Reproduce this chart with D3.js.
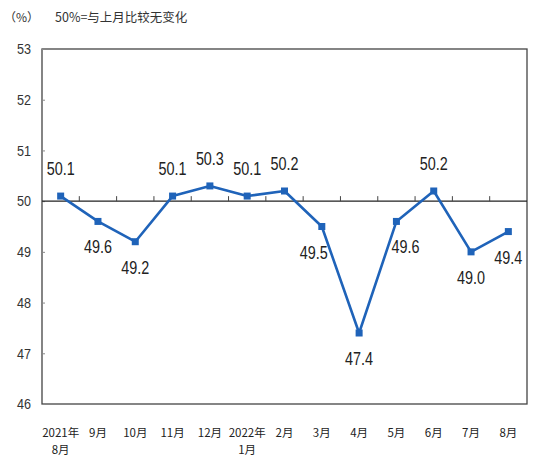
<!DOCTYPE html>
<html>
<head>
<meta charset="utf-8">
<script src="https://cdn.jsdelivr.net/npm/d3@7"></script>
<style>
  body { margin: 0; background: #fff; }
</style>
</head>
<body>
<div id="chart"></div>
<script>
var months = ["2021年\n8月", "9月", "10月", "11月", "12月", "2022年\n1月", "2月", "3月", "4月", "5月", "6月", "7月", "8月"];
var values = [50.1, 49.6, 49.2, 50.1, 50.3, 50.1, 50.2, 49.5, 47.4, 49.6, 50.2, 49.0, 49.4];
var labelSide = ["up", "down", "down", "up", "up", "up", "up", "down", "down", "down", "up", "down", "down"];
var yTicks = [46, 47, 48, 49, 50, 51, 52, 53];

(function(){
    var width = 535;
    var height = 459;
    var left = 42, right = 527, top = 49, bottom = 404;

    var svg = d3.select("#chart")
        .append("svg")
        .attr("width", width)
        .attr("height", height);

    var x = d3.scaleBand().domain(d3.range(months.length)).range([left, right]);
    var y = d3.scaleLinear().domain([46, 53]).range([bottom, top]);
    var blue = "#1f63b9";
    var numFont = "'Liberation Sans', Arial, sans-serif";

    // header
    svg.append("text")
        .attr("x", 4).attr("y", 22)
        .attr("font-family", "'Noto Sans CJK SC', sans-serif")
        .attr("font-size", 12)
        .attr("fill", "#333")
        .text("（%）");
    svg.append("text")
        .attr("x", 55).attr("y", 22)
        .attr("font-family", "'Noto Sans CJK SC', sans-serif")
        .attr("font-size", 12.5)
        .attr("fill", "#333")
        .text("50%=与上月比较无变化");

    // frame
    svg.append("rect")
        .attr("x", left).attr("y", top)
        .attr("width", right - left).attr("height", bottom - top)
        .attr("fill", "none")
        .attr("stroke", "#444")
        .attr("stroke-width", 1.3);

    // y axis
    var yAxis = d3.axisLeft(y).tickValues(yTicks).tickFormat(d3.format("d")).tickSize(-3).tickPadding(11);
    var ya = svg.append("g").attr("transform", "translate(" + left + ",0)").call(yAxis);
    ya.select(".domain").remove();
    ya.selectAll(".tick line").attr("stroke", "#888");
    ya.selectAll(".tick text")
        .attr("font-family", numFont)
        .attr("font-size", 15)
        .attr("textLength", 14)
        .attr("lengthAdjust", "spacingAndGlyphs")
        .attr("fill", "#333");

    // 50 reference line with upward ticks at category boundaries
    svg.append("line")
        .attr("x1", left).attr("x2", right)
        .attr("y1", y(50)).attr("y2", y(50))
        .attr("stroke", "#222").attr("stroke-width", 1.3);
    svg.selectAll(".sep")
        .data(d3.range(1, months.length))
        .enter().append("line")
        .attr("class", "sep")
        .attr("x1", function(d){ return x(d); })
        .attr("x2", function(d){ return x(d); })
        .attr("y1", y(50)).attr("y2", y(50) - 5)
        .attr("stroke", "#444").attr("stroke-width", 1);

    // x labels
    var cx = function(i){ return x(i) + x.bandwidth() / 2; };
    var xl = svg.selectAll(".xlab")
        .data(months)
        .enter().append("text")
        .attr("class", "xlab")
        .attr("x", function(d, i){ return cx(i); })
        .attr("y", 437)
        .attr("text-anchor", "middle")
        .attr("font-family", "'Noto Sans CJK SC', sans-serif")
        .attr("font-size", 11.5)
        .attr("fill", "#222");
    xl.each(function(d, i){
        var parts = d.split("\n");
        var t = d3.select(this);
        parts.forEach(function(p, k){
            t.append("tspan")
                .attr("x", cx(i))
                .attr("dy", k === 0 ? 0 : 17)
                .text(p);
        });
    });

    // line
    var line = d3.line()
        .x(function(d, i){ return cx(i); })
        .y(function(d){ return y(d); });
    svg.append("path")
        .datum(values)
        .attr("d", line)
        .attr("fill", "none")
        .attr("stroke", blue)
        .attr("stroke-width", 2.6)
        .attr("stroke-linejoin", "round");

    svg.selectAll(".pt")
        .data(values)
        .enter().append("rect")
        .attr("class", "pt")
        .attr("x", function(d, i){ return cx(i) - 3.5; })
        .attr("y", function(d){ return y(d) - 3.5; })
        .attr("width", 7).attr("height", 7)
        .attr("fill", blue);

    // value labels (a couple nudged sideways so the line does not cross them)
    svg.selectAll(".vlab")
        .data(values)
        .enter().append("text")
        .attr("class", "vlab")
        .attr("x", function(d, i){
            var nudge = i === 9 ? 9 : (i === 7 ? -8 : 0);
            return cx(i) - 14 + nudge;
        })
        .attr("y", function(d, i){ return y(d) + (labelSide[i] === "up" ? -21 : 32); })
        .attr("font-family", numFont)
        .attr("font-size", 18)
        .attr("textLength", 28)
        .attr("lengthAdjust", "spacingAndGlyphs")
        .attr("fill", "#222")
        .text(function(d){ return d.toFixed(1); });
})();
</script>
</body>
</html>
